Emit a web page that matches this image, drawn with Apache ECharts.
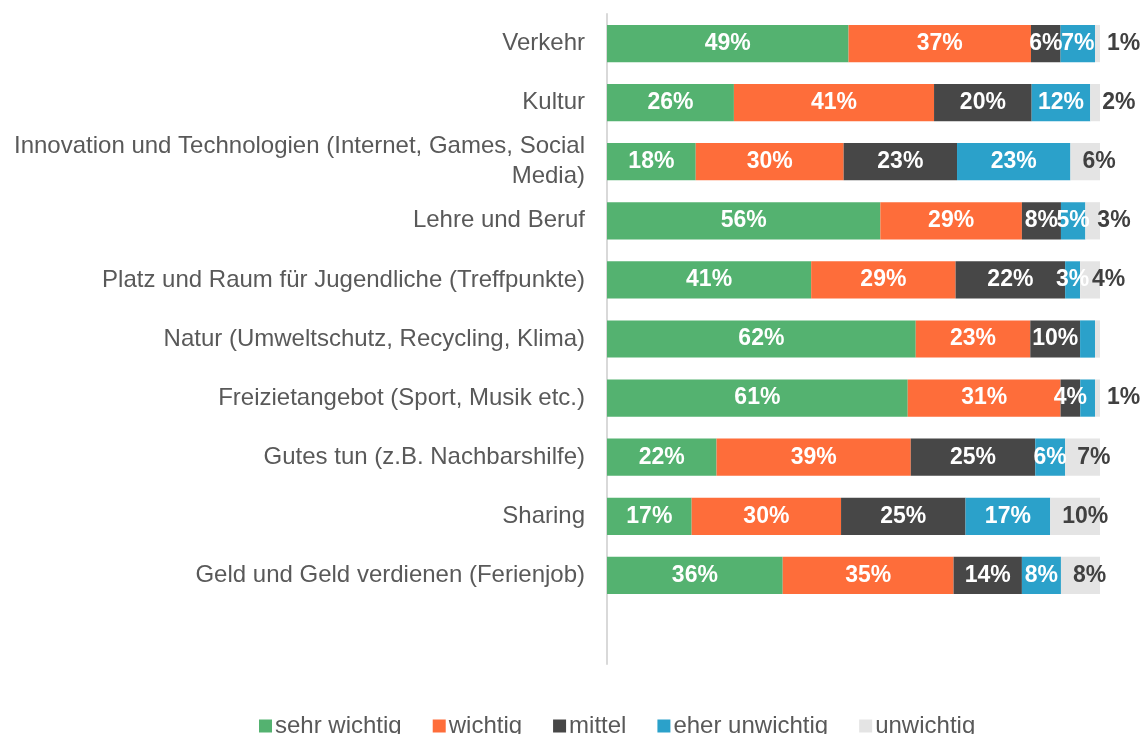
<!DOCTYPE html>
<html>
<head>
<meta charset="utf-8">
<script src="https://cdn.jsdelivr.net/npm/echarts@6/dist/echarts.min.js"></script>
<style>
  html, body { margin: 0; padding: 0; background: #fff; }
  #chart { width: 1146px; height: 734px; }
</style>
</head>
<body>
<div id="chart"></div>
<script>
// categories, top to bottom (the trailing empty one is the blank row in the source)
var categories = [
    'Verkehr',
    'Kultur',
    'Innovation und Technologien (Internet, Games, Social\nMedia)',
    'Lehre und Beruf',
    'Platz und Raum für Jugendliche (Treffpunkte)',
    'Natur (Umweltschutz, Recycling, Klima)',
    'Freizietangebot (Sport, Musik etc.)',
    'Gutes tun (z.B. Nachbarshilfe)',
    'Sharing',
    'Geld und Geld verdienen (Ferienjob)',
    ''
];

var seriesNames = ['sehr wichtig', 'wichtig', 'mittel', 'eher unwichtig', 'unwichtig'];

var sehrWichtig   = [49, 26, 18, 56, 41, 62, 61, 22, 17, 36];
var wichtig       = [37, 41, 30, 29, 29, 23, 31, 39, 30, 35];
var mittel        = [6, 20, 23, 8, 22, 10, 4, 25, 25, 14];
var eherUnwichtig = [7, 12, 23, 5, 3, 3, 3, 6, 17, 8];
var unwichtig     = [1, 2, 6, 3, 4, 1, 1, 7, 10, 8];

// labels that are not shown in the original: [series, row]
var hiddenLabels = [[3, 5], [4, 5], [3, 6]];

var colors = ['#54b270', '#fe6d3a', '#474747', '#2ba1ca', '#e4e4e4'];

var allValues = [sehrWichtig, wichtig, mittel, eherUnwichtig, unwichtig];

// rows are drawn as 100% stacked bars, like the source
var rowSums = sehrWichtig.map(function (v, i) {
    return allValues.reduce(function (s, arr) { return s + arr[i]; }, 0);
});

function isHidden(s, i) {
    return hiddenLabels.some(function (h) { return h[0] == s && h[1] == i; });
}

var series = allValues.map(function (arr, s) {
    var last = s == allValues.length - 1;
    return {
        name: seriesNames[s],
        type: 'bar',
        stack: 'total',
        barCategoryGap: '37%',
        itemStyle: { color: colors[s] },
        label: {
            show: true,
            position: last ? 'insideLeft' : 'inside',
            distance: last ? 12 : 5,
            color: last ? '#404040' : '#fff',
            fontFamily: 'Liberation Sans',
            fontWeight: 'bold',
            fontSize: 23,
            formatter: function (p) { return p.data.raw + '%'; }
        },
        data: arr.map(function (v, i) {
            var item = {
                value: v / rowSums[i] * 100,
                raw: v
            };
            if (isHidden(s, i)) item.label = { show: false };
            return item;
        })
    };
});

var chart = echarts.init(document.getElementById('chart'));
chart.setOption({
    animation: false,
    textStyle: { fontFamily: 'Liberation Sans' },
    grid: { left: 607, right: 46, top: 14, height: 650 },
    legend: {
        left: 254,
        top: 709,
        itemWidth: 13,
        itemHeight: 13,
        itemGap: 31,
        icon: 'rect',
        textStyle: { fontSize: 24, color: '#595959', fontFamily: 'Liberation Sans', padding: [0, 0, 0, -2] },
        data: seriesNames
    },
    xAxis: {
        type: 'value',
        min: 0,
        max: 100,
        show: false
    },
    yAxis: {
        type: 'category',
        inverse: true,
        data: categories,
        axisLine: { lineStyle: { color: '#d9d9d9', width: 2 } },
        axisTick: { show: false },
        axisLabel: {
            color: '#595959',
            fontSize: 24,
            margin: 22,
            lineHeight: 30,
            align: 'right'
        }
    },
    series: series
});
</script>
</body>
</html>
